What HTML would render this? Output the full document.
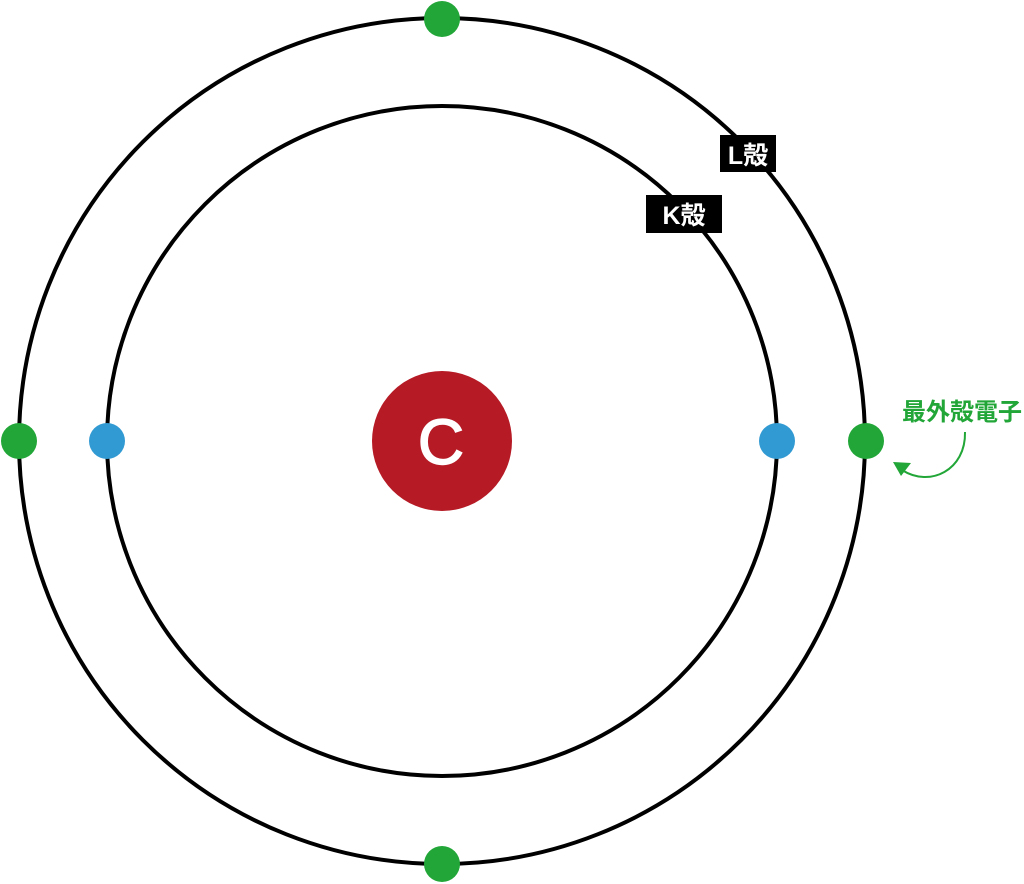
<!DOCTYPE html>
<html><head><meta charset="utf-8"><style>
html,body{margin:0;padding:0;background:#fff;}
body{width:1024px;height:884px;position:relative;overflow:hidden;font-family:"Liberation Sans","Noto Sans CJK JP",sans-serif;}
.lbl{position:absolute;background:#000;color:#fff;font-weight:bold;font-size:25px;display:flex;align-items:center;justify-content:center;}
</style></head><body>
<svg width="1024" height="884" style="position:absolute;left:0;top:0">
<circle cx="442" cy="441" r="423" fill="none" stroke="#000" stroke-width="4"/>
<circle cx="442" cy="441" r="335" fill="none" stroke="#000" stroke-width="4"/>
<circle cx="442" cy="441" r="70" fill="#b51a25"/>
<text x="441" y="464" text-anchor="middle" font-family="Liberation Sans, sans-serif" font-size="64" stroke="#fff" stroke-width="1.5" fill="#fff">C</text>
<g fill="#21a637">
<circle cx="442" cy="19" r="18"/><circle cx="442" cy="864" r="18"/>
<circle cx="19" cy="441" r="18"/><circle cx="866" cy="441" r="18"/>
</g>
<g fill="#329ad2">
<circle cx="107" cy="441" r="18"/><circle cx="777" cy="441" r="18"/>
</g>
<path d="M965 432 C966 470 930 488 902 470" fill="none" stroke="#21a637" stroke-width="2"/>
<polygon points="893,462 911,463 901,476" fill="#21a637"/>
</svg>
<div class="lbl" style="left:720px;top:135px;width:56px;height:37px;">L殻</div>
<div class="lbl" style="left:646px;top:195px;width:76px;height:38px;">K殻</div>
<div style="position:absolute;left:902px;top:392px;color:#21a637;font-weight:bold;font-size:24px;letter-spacing:0px;white-space:nowrap;">最外殻電子</div>
</body></html>
